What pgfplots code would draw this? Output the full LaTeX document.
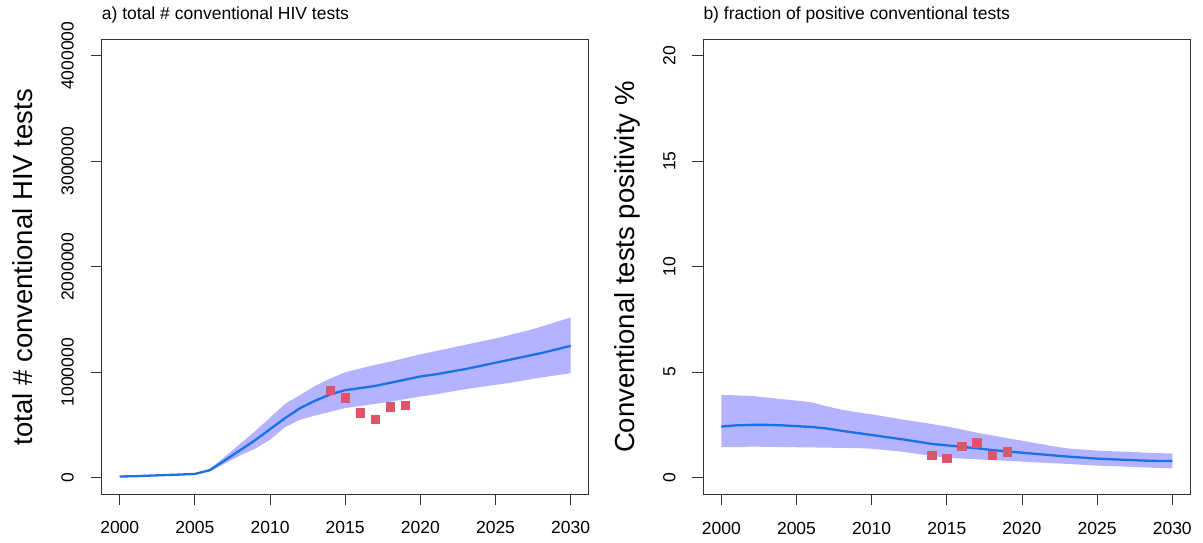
\documentclass[border=0pt]{standalone}
\usepackage{fontspec}
\setmainfont{Liberation Sans}
\usepackage{pgfplots}
\usepackage{pgfplotstable}
\pgfplotsset{compat=1.18}

\definecolor{bandblue}{RGB}{179,179,255}
\definecolor{lineblue}{RGB}{28,113,230}
\definecolor{ptred}{RGB}{223,83,107}

% total number of conventional tests: median
\pgfplotstableread{
year mid
2000 12000
2001 14000
2002 20000
2003 25000
2004 30000
2005 36000
2006 72000
2007 165000
2008 260000
2009 355000
2010 460000
2011 565000
2012 660000
2013 730000
2014 790000
2015 830000
2016 850000
2017 870000
2018 900000
2019 930000
2020 960000
2021 980000
2022 1005000
2023 1030000
2024 1060000
2025 1090000
2026 1120000
2027 1150000
2028 1180000
2029 1215000
2030 1250000
}\testsmid

% uncertainty band: upper edge forward, lower edge back
\pgfplotstableread{
year v
2000 16000
2001 18000
2002 24000
2003 30000
2004 35000
2005 41000
2006 85000
2007 200000
2008 320000
2009 440000
2010 570000
2011 700000
2012 785000
2013 870000
2014 940000
2015 1000000
2016 1035000
2017 1070000
2018 1100000
2019 1135000
2020 1170000
2021 1200000
2022 1230000
2023 1260000
2024 1290000
2025 1320000
2026 1355000
2027 1390000
2028 1430000
2029 1475000
2030 1520000
2030 990000
2029 970000
2028 950000
2027 925000
2026 900000
2025 880000
2024 860000
2023 840000
2022 815000
2021 790000
2020 770000
2019 745000
2018 720000
2017 700000
2016 680000
2015 660000
2014 625000
2013 590000
2012 550000
2011 480000
2010 360000
2009 275000
2008 210000
2007 135000
2006 60000
2005 31000
2004 26000
2003 21000
2002 16000
2001 10000
2000 8000
}\testsband

\pgfplotstableread{
year n
2014 830000
2015 760000
2016 615000
2017 553000
2018 672000
2019 685000
}\testsdata

% positivity of conventional tests (%): median
\pgfplotstableread{
year mid
2000 2.42
2001 2.48
2002 2.50
2003 2.50
2004 2.48
2005 2.44
2006 2.40
2007 2.33
2008 2.22
2009 2.12
2010 2.02
2011 1.92
2012 1.82
2013 1.71
2014 1.60
2015 1.53
2016 1.46
2017 1.39
2018 1.31
2019 1.24
2020 1.18
2021 1.12
2022 1.06
2023 1.00
2024 0.95
2025 0.90
2026 0.87
2027 0.84
2028 0.81
2029 0.79
2030 0.79
}\posmid

\pgfplotstableread{
year v
2000 3.92
2001 3.90
2002 3.87
2003 3.80
2004 3.72
2005 3.65
2006 3.57
2007 3.38
2008 3.22
2009 3.10
2010 3.00
2011 2.88
2012 2.76
2013 2.65
2014 2.54
2015 2.42
2016 2.28
2017 2.13
2018 2.00
2019 1.87
2020 1.75
2021 1.62
2022 1.50
2023 1.39
2024 1.33
2025 1.28
2026 1.25
2027 1.23
2028 1.19
2029 1.16
2030 1.15
2030 0.44
2029 0.46
2028 0.49
2027 0.52
2026 0.55
2025 0.57
2024 0.61
2023 0.65
2022 0.69
2021 0.72
2020 0.76
2019 0.80
2018 0.83
2017 0.87
2016 0.90
2015 0.95
2014 1.03
2013 1.13
2012 1.23
2011 1.30
2010 1.37
2009 1.40
2008 1.41
2007 1.42
2006 1.43
2005 1.44
2004 1.45
2003 1.46
2002 1.47
2001 1.44
2000 1.44
}\posband

\pgfplotstableread{
year p
2014 1.07
2015 0.92
2016 1.50
2017 1.66
2018 1.07
2019 1.23
}\posdata

\pgfplotsset{
  rstyle/.style={
    scale only axis,
    width=487pt, height=454.3pt,
    xmin=1998.8, xmax=2031.2,
    scaled x ticks=false, scaled y ticks=false,
    axis line style={black!80, line width=1pt},
    every tick/.style={black!80, line width=0.9pt},
    tick align=outside, major tick length=11pt,
    xtick pos=bottom, ytick pos=left,
    xtick={2000,2005,...,2030},
    xticklabels={2000,2005,2010,2015,2020,2025,2030},
    ticklabel style={font=\fontsize{17.5}{20}\selectfont, inner sep=0pt},
    xticklabel style={anchor=base, yshift=-28.7pt},
    yticklabel style={rotate=90, anchor=base, yshift=17pt},
    title style={at={(axis description cs:0,1.0315)}, anchor=base west,
      inner sep=0pt, font=\fontsize{17.5}{20}\selectfont},
    ylabel style={at={(axis description cs:-0.1417,0.5)}, anchor=base,
      inner sep=0pt, font=\fontsize{27.5}{30}\selectfont},
  },
}

\begin{document}
\begin{tikzpicture}
\path[use as bounding box] (0pt,0pt) rectangle (1203pt,543pt);

\begin{axis}[rstyle, at={(101.7pt,48.7pt)}, anchor=south west,
  ymin=-157000, ymax=4149000,
  ytick={0,1000000,2000000,3000000,4000000},
  yticklabels={0,1000000,2000000,3000000,4000000},
  title={a) total \# conventional HIV tests},
  ylabel={total \# conventional HIV tests}]
\addplot[fill=bandblue, draw=none] table[x=year, y=v] {\testsband} -- cycle;
\addplot[lineblue, line width=2.3pt] table[x=year, y=mid] {\testsmid};
\addplot[only marks, mark=square*, mark size=4.2pt, ptred] table[x=year, y=n] {\testsdata};
\end{axis}

\begin{axis}[rstyle, at={(703.3pt,48.7pt)}, anchor=south west,
  ymin=-0.79, ymax=20.74,
  ytick={0,5,10,15,20},
  yticklabels={0,5,10,15,20},
  title={b) fraction of positive conventional tests},
  ylabel={Conventional tests positivity \%}]
\addplot[fill=bandblue, draw=none] table[x=year, y=v] {\posband} -- cycle;
\addplot[lineblue, line width=2.3pt] table[x=year, y=mid] {\posmid};
\addplot[only marks, mark=square*, mark size=4.2pt, ptred] table[x=year, y=p] {\posdata};
\end{axis}
\end{tikzpicture}
\end{document}
